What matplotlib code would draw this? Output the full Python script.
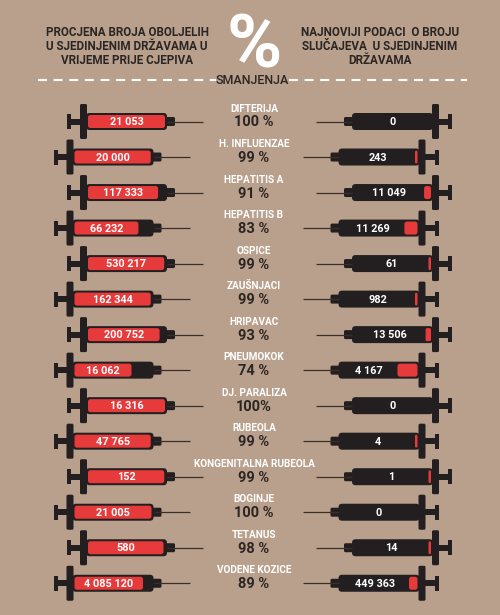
# Cjepiva u SAD-u - infografika sa špricama
import matplotlib
matplotlib.use("Agg")
import matplotlib.pyplot as plt
from matplotlib.patches import FancyBboxPatch, Rectangle

# podaci
bolesti = ["DIFTERIJA", "H. INFLUENZAE", "HEPATITIS A", "HEPATITIS B", "OSPICE",
           "ZAUŠNJACI", "HRIPAVAC", "PNEUMOKOK", "DJ. PARALIZA", "RUBEOLA",
           "KONGENITALNA RUBEOLA", "BOGINJE", "TETANUS", "VODENE KOZICE"]
prije = [21053, 20000, 117333, 66232, 530217, 162344, 200752, 16062, 16316,
         47765, 152, 21005, 580, 4085120]
sada = [0, 243, 11049, 11269, 61, 982, 13506, 4167, 0, 4, 1, 0, 14, 449363]
smanjenje = [100, 99, 91, 83, 99, 99, 93, 74, 100, 99, 99, 100, 98, 89]
smanjenje_txt = ["100 %", "99 %", "91 %", "83 %", "99 %", "99 %", "93 %", "74 %",
                 "100%", "99 %", "99 %", "100 %", "98 %", "89 %"]

BG = "#b9a08c"
RED = "#e73a3b"
BLACK = "#231f20"
DARK = "#2b2523"
NEEDLE = "#3b2f2a"
FONT = ["Roboto", "DejaVu Sans"]

fig = plt.figure(figsize=(5, 6.15), dpi=100)
fig.patch.set_facecolor(BG)
ax = fig.add_axes([0, 0, 1, 1])
ax.set_xlim(0, 500)
ax.set_ylim(615, 0)
ax.axis("off")


def fmt(v):
    return f"{v:,}".replace(",", " ")


def rbox(x, y, w, h, color, r=3):
    ax.add_patch(FancyBboxPatch((x, y), w, h, boxstyle=f"round,pad=0,rounding_size={r}",
                                fc=color, ec="none"))


def syringe(xcap, yc, d, fill_frac, label):
    # d = +1 klip lijevo, igla desno ; d = -1 obrnuto
    def span(a, b):
        x1, x2 = xcap + d * a, xcap + d * b
        return min(x1, x2), abs(x2 - x1)
    # igla
    x, w = span(100, 136)
    ax.plot([x, x + w], [yc, yc], color=NEEDLE, lw=0.9, solid_capstyle="butt")
    # klip
    x, w = span(0, 4)
    ax.add_patch(Rectangle((x, yc - 7.5), w, 15, fc=BLACK, ec="none"))
    x, w = span(0, 14)
    ax.add_patch(Rectangle((x, yc - 3), w, 6, fc=BLACK, ec="none"))
    x, w = span(13, 20)
    rbox(x, yc - 17.5, w, 35, BLACK, r=1.5)
    # nastavak
    x, w = span(97, 108)
    rbox(x, yc - 4.5, w, 9, BLACK, r=1.5)
    # cilindar
    bx, bw = span(19, 100)
    rbox(bx, yc - 8.5, bw, 17, BLACK, r=3.5)
    ix, iw = bx + 2, bw - 4
    fw = iw * fill_frac
    if d > 0:
        if fw > 0:
            rbox(ix, yc - 6.5, fw, 13, RED, r=2.5)
        tx = ix + fw / 2 if fw > 0 else ix + iw / 2
    else:
        if fill_frac > 0:
            fw = max(fw, 2.5)
            rbox(ix + iw - fw, yc - 6.5, fw, 13, RED, r=1.5 if fw < 6 else 2.5)
        tx = ix + (iw - (fw if fill_frac > 0 else 0)) / 2
    ax.text(tx, yc + 0.5, label, color="white", fontsize=7.8, fontweight="bold",
            family=FONT, ha="center", va="center")


y0, dy = 121.5, 35.52
for i in range(len(bolesti)):
    yc = y0 + i * dy
    sh = -13.5 if i % 2 else 0
    syringe(67 + sh, yc, 1, smanjenje[i] / 100, fmt(prije[i]))
    syringe(452 + sh, yc, -1, (100 - smanjenje[i]) / 100, fmt(sada[i]))
    ax.text(254, yc - 13, bolesti[i], color="white", fontsize=7.2, fontweight="bold",
            family=FONT, ha="center", va="center")
    ax.text(254, yc + 1, smanjenje_txt[i], color=DARK, fontsize=10.5, fontweight="bold",
            family=FONT, ha="center", va="center")

# zaglavlje
lijevo = ["PROCJENA BROJA OBOLJELIH", "U SJEDINJENIM DRŽAVAMA U", "VRIJEME PRIJE CJEPIVA"]
desno = ["NAJNOVIJI PODACI  O BROJU", "SLUČAJEVA  U SJEDINJENIM", "DRŽAVAMA"]
for j, (l, r) in enumerate(zip(lijevo, desno)):
    ax.text(127, 33 + j * 13.5, l, color=DARK, fontsize=8.4, fontweight="bold",
            family=FONT, ha="center", va="center")
    ax.text(380, 33 + j * 13.5, r, color=DARK, fontsize=8.4, fontweight="bold",
            family=FONT, ha="center", va="center")
ax.text(254, 67, "%", color="white", fontsize=54, fontweight="bold",
        family=FONT, ha="center", va="baseline")
ax.text(252, 80, "SMANJENJA", color=DARK, fontsize=9, family=FONT,
        fontweight="medium", ha="center", va="center")
ax.plot([38, 216], [80, 80], color="white", lw=1.5, ls=(0, (4.3, 3.2)))
ax.plot([289, 467], [80, 80], color="white", lw=1.5, ls=(0, (4.3, 3.2)))

fig.savefig("out.png", dpi=100, facecolor=BG)
